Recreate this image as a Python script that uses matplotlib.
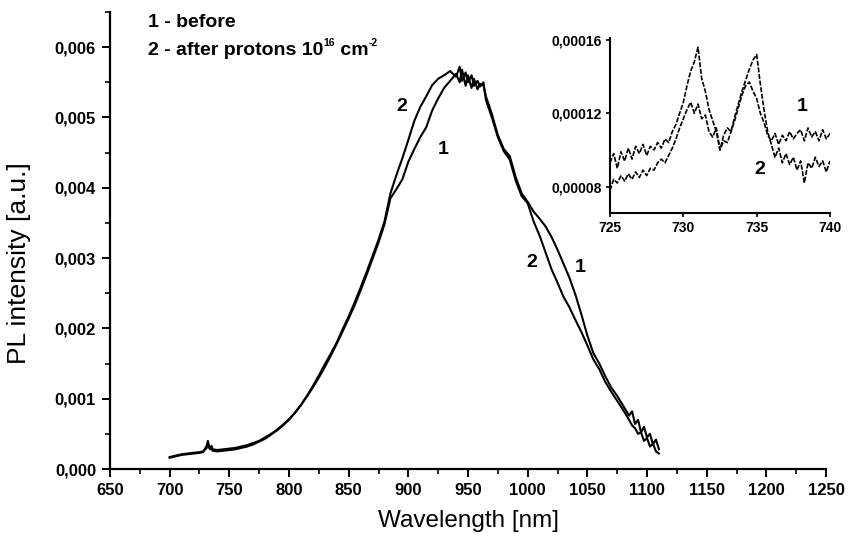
import numpy as np
import matplotlib
matplotlib.use("Agg")
import matplotlib.pyplot as plt
from matplotlib.ticker import FuncFormatter, MultipleLocator, FixedLocator
from matplotlib.transforms import offset_copy

plt.rcParams['font.family'] = ['Liberation Sans', 'DejaVu Sans']

# ---- PL spectra (intensity in units of 1e-3 a.u.) ----
wavelength = [
    700, 705, 710, 715, 720, 725, 728, 731, 732, 733, 734, 735, 736, 740,
    745, 750, 755, 760, 765, 770, 775, 780, 785, 790, 795, 800, 805, 810,
    815, 820, 825, 830, 835, 840, 845, 850, 855, 860, 865, 870, 875, 880,
    885, 890, 895, 900, 905, 910, 915, 920, 925, 930, 935, 940, 943, 945,
    948, 950, 953, 955, 958, 960, 963, 965, 970, 975, 980, 985, 990, 995,
    1000, 1005, 1010, 1015, 1020, 1025, 1030, 1035, 1040, 1045, 1050, 1055,
    1060, 1065, 1070, 1075, 1080, 1085, 1087.5, 1090, 1092.5, 1095, 1097.5,
    1100, 1102.5, 1105, 1107.5, 1110,
]
before = [
    0.17, 0.19, 0.21, 0.22, 0.23, 0.24, 0.25, 0.30, 0.40, 0.32, 0.30, 0.33, 0.28, 0.27,
    0.28, 0.29, 0.30, 0.32, 0.34, 0.37, 0.40, 0.45, 0.50, 0.56, 0.63, 0.71, 0.80, 0.91,
    1.03, 1.16, 1.30, 1.45, 1.61, 1.78, 1.96, 2.14, 2.33, 2.54, 2.76, 2.99, 3.22, 3.48,
    3.85, 3.98, 4.12, 4.37, 4.55, 4.72, 4.86, 5.10, 5.27, 5.42, 5.52, 5.62, 5.50, 5.68,
    5.45, 5.60, 5.42, 5.55, 5.40, 5.48, 5.45, 5.30, 5.05, 4.75, 4.55, 4.45, 4.15, 3.92,
    3.80, 3.66, 3.56, 3.45, 3.30, 3.12, 2.92, 2.72, 2.48, 2.20, 1.90, 1.65,
    1.50, 1.32, 1.16, 1.04, 0.90, 0.76, 0.82, 0.64, 0.70, 0.52, 0.60,
    0.45, 0.50, 0.35, 0.42, 0.28,
]
after = [
    0.16, 0.18, 0.20, 0.21, 0.22, 0.23, 0.24, 0.33, 0.37, 0.30, 0.28, 0.31, 0.26, 0.25,
    0.26, 0.27, 0.28, 0.30, 0.32, 0.35, 0.39, 0.43, 0.49, 0.55, 0.62, 0.70, 0.80, 0.91,
    1.04, 1.18, 1.33, 1.49, 1.64, 1.80, 1.99, 2.17, 2.37, 2.58, 2.80, 3.03, 3.26, 3.52,
    3.92, 4.18, 4.42, 4.68, 4.95, 5.15, 5.30, 5.46, 5.55, 5.60, 5.66, 5.58, 5.72, 5.52,
    5.64, 5.50, 5.60, 5.45, 5.52, 5.44, 5.50, 5.25, 5.00, 4.72, 4.52, 4.40, 4.10, 3.88,
    3.78, 3.52, 3.32, 3.08, 2.84, 2.65, 2.45, 2.30, 2.12, 1.95, 1.76, 1.56,
    1.42, 1.24, 1.10, 0.97, 0.84, 0.70, 0.62, 0.58, 0.50, 0.52, 0.40,
    0.44, 0.32, 0.36, 0.25, 0.22,
]

# ---- inset: 725-740 nm detail (intensity in units of 1e-5 a.u.) ----
inset_wl = [725 + 0.25 * k for k in range(61)]
inset_before = [
    7.8, 8.4, 8.2, 8.6, 8.3, 8.7, 8.4, 8.8, 8.5, 8.9, 8.6, 9.0, 8.9, 9.3, 9.5, 9.3,
    9.7, 10.1, 10.6, 11.2, 11.7, 12.2, 12.6, 12.0, 12.5, 11.7, 11.9, 11.0, 10.7, 11.2,
    10.0, 10.5, 10.4, 11.0, 11.6, 12.3, 13.0, 13.5, 13.7, 13.2, 12.8, 12.0, 11.5, 10.8,
    10.5, 10.9, 10.3, 10.8, 10.5, 11.0, 10.6, 10.9, 11.1, 10.5, 11.2, 10.7, 11.0, 10.5,
    11.1, 10.6, 10.9,
]
inset_after = [
    9.3, 9.8, 9.0, 9.9, 9.4, 10.1, 9.5, 10.2, 9.8, 10.3, 9.7, 10.2, 10.0, 10.4, 10.1, 10.6,
    10.4, 11.0, 11.4, 12.0, 12.6, 13.5, 14.3, 14.8, 15.6, 13.9, 13.2, 12.2, 11.6, 11.0,
    10.0, 10.8, 11.2, 11.0, 11.8, 12.5, 13.2, 13.8, 14.4, 14.9, 15.2, 13.6, 12.2, 11.0,
    10.3, 9.6, 10.1, 9.3, 9.8, 9.2, 9.6, 8.9, 9.4, 8.2, 9.3, 9.0, 9.6, 9.1, 9.4, 8.8,
    9.4,
]

x_ticks = list(range(650, 1251, 50))
y_ticks = [0.000, 0.001, 0.002, 0.003, 0.004, 0.005, 0.006]
inset_x_ticks = [725, 730, 735, 740]
inset_y_ticks = [0.00008, 0.00012, 0.00016]


def comma_fmt(decimals):
    return FuncFormatter(lambda v, pos: f"{v:.{decimals}f}".replace('.', ','))


def rich_text(ax, x, y, parts, renderer):
    """Write consecutive text pieces (string, size, raise in points) on one baseline."""
    x_off = 0.0
    for s, size, dy in parts:
        tr = offset_copy(ax.transAxes, fig=ax.figure, x=x_off, y=dy, units='points')
        t = ax.text(x, y, s, transform=tr, fontsize=size, fontweight='bold',
                    ha='left', va='baseline')
        x_off += t.get_window_extent(renderer=renderer).width * 72.0 / ax.figure.dpi


fig = plt.figure(figsize=(8.54, 5.47), dpi=100)
renderer = fig.canvas.get_renderer()
ax = fig.add_axes([110 / 854, 1 - 469 / 547, (826 - 110) / 854, (469 - 12) / 547])

wl = np.array(wavelength)
ax.plot(wl, np.array(before) * 1e-3, color='black', lw=1.5)
ax.plot(wl, np.array(after) * 1e-3, color='black', lw=1.5)

ax.set_xlim(650, 1250)
ax.set_ylim(0, 0.0065)
ax.xaxis.set_major_locator(FixedLocator(x_ticks))
ax.xaxis.set_minor_locator(MultipleLocator(25))
ax.yaxis.set_major_locator(FixedLocator(y_ticks))
ax.yaxis.set_minor_locator(MultipleLocator(0.0005))
ax.yaxis.set_major_formatter(comma_fmt(3))
ax.xaxis.set_major_formatter(FuncFormatter(lambda v, pos: f"{v:.0f}"))
for s in ('top', 'right'):
    ax.spines[s].set_visible(False)
for s in ('left', 'bottom'):
    ax.spines[s].set_linewidth(1.6)
ax.tick_params(which='major', direction='out', length=6, width=1.4,
               labelsize=12, pad=4)
ax.tick_params(which='minor', direction='out', length=3.5, width=1.2)
for lab in ax.get_xticklabels() + ax.get_yticklabels():
    lab.set_fontweight('bold')

ax.set_xlabel('Wavelength [nm]', fontsize=17.5, labelpad=9)
ax.set_ylabel('PL intensity [a.u.]', fontsize=19)
ax.yaxis.set_label_coords(-0.11, 0.45)

# legend text and curve numbers
rich_text(ax, 0.053, 0.967, [('1 - before', 14, 0)], renderer)
rich_text(ax, 0.053, 0.906, [('2 - after protons 10', 14, 0), ('16', 7.5, 6.5),
                             (' cm', 14, 0), ('-2', 7.5, 6.5)], renderer)
ax.text(894.5, 0.00515, '2', fontsize=14, fontweight='bold', ha='center', va='center')
ax.text(929, 0.00454, '1', fontsize=14, fontweight='bold', ha='center', va='center')
ax.text(1003.5, 0.00293, '2', fontsize=14, fontweight='bold', ha='center', va='center')
ax.text(1044, 0.00286, '1', fontsize=14, fontweight='bold', ha='center', va='center')

# ---- inset ----
ins = fig.add_axes([610 / 854, 1 - 212.7 / 547, (830 - 610) / 854, (212.7 - 38) / 547])
ins.plot(inset_wl, np.array(inset_before) * 1e-5, color='black', lw=1.2,
         ls=(0, (3, 1)))
ins.plot(inset_wl, np.array(inset_after) * 1e-5, color='black', lw=1.2,
         ls=(0, (3, 1)))
ins.set_xlim(725, 740)
ins.set_ylim(0.0000658, 0.000161)
ins.xaxis.set_major_locator(FixedLocator(inset_x_ticks))
ins.yaxis.set_major_locator(FixedLocator(inset_y_ticks))
ins.yaxis.set_major_formatter(comma_fmt(5))
for s in ('top', 'right'):
    ins.spines[s].set_visible(False)
for s in ('left', 'bottom'):
    ins.spines[s].set_linewidth(1.5)
ins.tick_params(direction='out', length=3, width=1.2, labelsize=10, pad=3)
for lab in ins.get_xticklabels() + ins.get_yticklabels():
    lab.set_fontweight('bold')
ins.text(738.1, 0.0001235, '1', fontsize=14, fontweight='bold', ha='center', va='center')
ins.text(735.2, 0.0000895, '2', fontsize=14, fontweight='bold', ha='center', va='center')

fig.savefig('out.png', dpi=100)
